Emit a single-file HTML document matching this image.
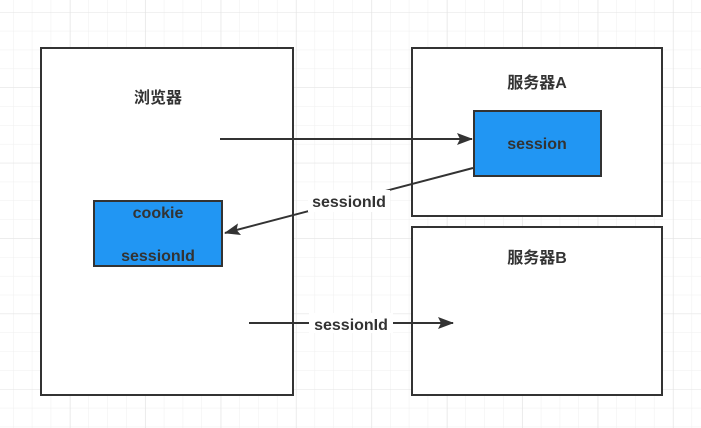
<!DOCTYPE html>
<html><head><meta charset="utf-8"><style>
html,body{margin:0;padding:0;background:#fff}
svg{display:block}
text{font-family:"Liberation Sans","Noto Sans CJK SC",sans-serif;font-weight:bold;fill:#333}
</style></head><body>
<svg width="701" height="428" viewBox="0 0 701 428" xmlns="http://www.w3.org/2000/svg">
<defs>
<pattern id="g" x="13" y="12" width="18.85" height="18.85" patternUnits="userSpaceOnUse">
<path d="M0 0V18.85M0 0H18.85" stroke="#efefef" stroke-width="1" fill="none"/>
</pattern>
<pattern id="G" x="70" y="12" width="75.4" height="75.4" patternUnits="userSpaceOnUse">
<path d="M0 0V75.4M0 0H75.4" stroke="#e3e3e3" stroke-width="1" fill="none"/>
</pattern>
<marker id="a" markerWidth="16" markerHeight="12" refX="15" refY="6" orient="auto" markerUnits="userSpaceOnUse">
<path d="M0 0L16 6L0 12L3 6Z" fill="#333"/>
</marker>
</defs>
<rect width="701" height="428" fill="url(#g)"/>
<rect width="701" height="428" fill="url(#G)"/>
<rect x="41" y="48" width="252" height="347" fill="#fff" stroke="#333" stroke-width="2"/>
<rect x="412" y="48" width="250" height="168" fill="#fff" stroke="#333" stroke-width="2"/>
<rect x="412" y="227" width="250" height="168" fill="#fff" stroke="#333" stroke-width="2"/>
<text x="158" y="103" font-size="16" text-anchor="middle">浏览器</text>
<text x="537" y="88" font-size="16" text-anchor="middle">服务器A</text>
<text x="537" y="263" font-size="16" text-anchor="middle">服务器B</text>
<rect x="474" y="111" width="127" height="65" fill="#2196f3" stroke="#333" stroke-width="2"/>
<text x="537" y="149" font-size="16" text-anchor="middle">session</text>
<rect x="94" y="201" width="128" height="65" fill="#2196f3" stroke="#333" stroke-width="2"/>
<text x="158" y="218" font-size="16" text-anchor="middle">cookie</text>
<text x="158" y="261" font-size="16" text-anchor="middle">sessionId</text>
<line x1="220" y1="139" x2="472" y2="139" stroke="#333" stroke-width="2" marker-end="url(#a)"/>
<line x1="473" y1="168" x2="225" y2="233" stroke="#333" stroke-width="2" marker-end="url(#a)"/>
<rect x="308" y="190" width="82" height="22" fill="#fff"/>
<text x="349" y="207" font-size="16" text-anchor="middle">sessionId</text>
<line x1="249" y1="323" x2="453" y2="323" stroke="#333" stroke-width="2" marker-end="url(#a)"/>
<rect x="309" y="313" width="84" height="20" fill="#fff"/>
<text x="351" y="330" font-size="16" text-anchor="middle">sessionId</text>
</svg>
</body></html>
